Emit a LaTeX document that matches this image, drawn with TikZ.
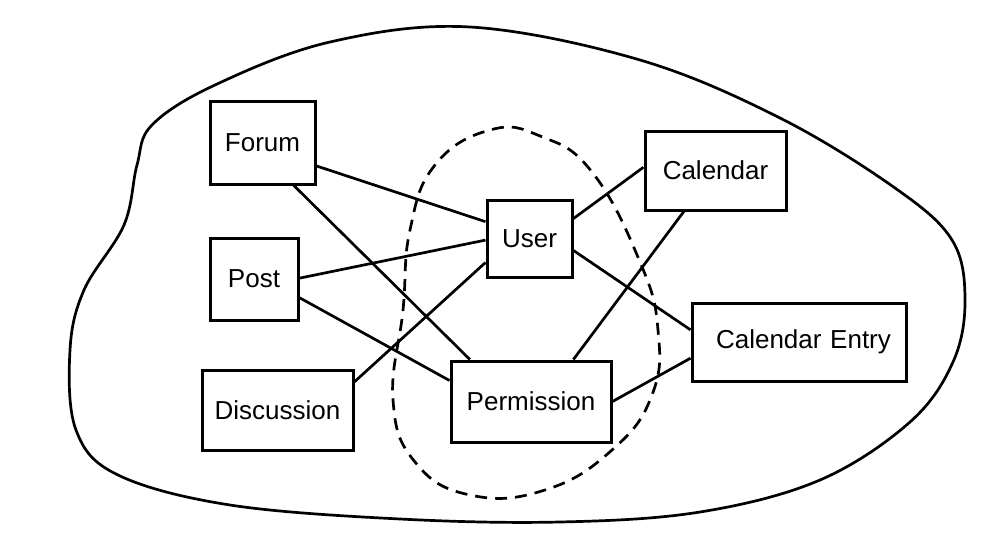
\documentclass[tikz,border=0pt]{standalone}
\usepackage{fontspec}
\setmainfont{Liberation Sans}
\usetikzlibrary{calc}
\begin{document}
\begin{tikzpicture}[x=0.5pt,y=-0.5pt,
  ent/.style={draw,line width=1.5pt,inner sep=0pt,font=\fontsize{13}{15}\selectfont},
  link/.style={line width=1.35pt},
  blob/.style={line width=1.35pt},
  scopeline/.style={line width=1.35pt,dash pattern=on 6pt off 4pt}]
\useasboundingbox (0,0) rectangle (1000,535);
\node[ent,minimum width=52.5pt,minimum height=41pt] (forum) at (262.5,143) {Forum};
\node[ent,minimum width=44pt,minimum height=41pt] (post) at (254,279) {Post};
\node[ent,minimum width=75.5pt,minimum height=40pt] (disc) at (277.5,410) {Discussion};
\node[ent,minimum width=42.5pt,minimum height=38.5pt] (user) at (529.5,238.5) {User};
\node[ent,minimum width=80pt,minimum height=40.5pt] (perm) at (531,401.5) {Permission};
\node[ent,minimum width=70.5pt,minimum height=39.5pt] (cal) at (715.5,170.5) {Calendar};
\node[ent,minimum width=107pt,minimum height=39pt,text width=100pt,align=center] (calent) at (799,342) {\hspace*{4.5pt}Calendar Entry};
% connectors
\draw[link] ($(forum.north east)!0.77!(forum.south east)$) -- ($(user.north west)!0.29!(user.south west)$);
\draw[link] ($(forum.south west)!0.79!(forum.south east)$) -- ($(perm.north west)!0.125!(perm.north east)$);
\draw[link] ($(post.north east)!0.49!(post.south east)$) -- ($(user.north west)!0.52!(user.south west)$);
\draw[link] ($(post.north east)!0.72!(post.south east)$) -- ($(perm.north west)!0.25!(perm.south west)$);
\draw[link] ($(disc.north east)!0.16!(disc.south east)$) -- ($(user.north west)!0.8!(user.south west)$);
\draw[link] ($(user.north east)!0.25!(user.south east)$) -- ($(cal.north west)!0.46!(cal.south west)$);
\draw[link] ($(user.north east)!0.65!(user.south east)$) -- ($(calent.north west)!0.35!(calent.south west)$);
\draw[link] ($(cal.south west)!0.28!(cal.south east)$) -- ($(perm.north west)!0.76!(perm.north east)$);
\draw[link] (perm.east) -- ($(calent.north west)!0.7!(calent.south west)$);
% dashed scope
\draw[scopeline] plot[smooth cycle,tension=0.75] coordinates {(490,130) (435,165) (410,230) (403,310) (393,400) (415,462) (470,495) (545,490) (612,450) (652,395) (658,330) (640,262) (592,172) (540,136)};
% outer boundary
\draw[blob] plot[smooth cycle,tension=0.6] coordinates {(470,27) (330,42) (215,85) (152,125) (137,165) (124,225) (84,290) (70,350) (76,430) (118,475) (230,505) (400,519) (560,522) (700,512) (820,480) (910,422) (953,362) (965,300) (952,240) (895,188) (780,118) (640,60)};
\end{tikzpicture}
\end{document}
